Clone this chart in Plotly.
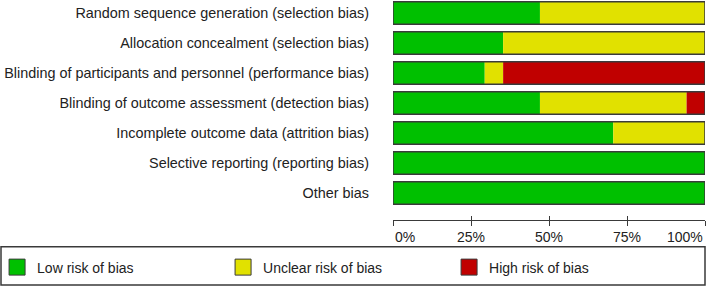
import plotly.graph_objects as go

domains = [
    "Random sequence generation (selection bias)",
    "Allocation concealment (selection bias)",
    "Blinding of participants and personnel (performance bias)",
    "Blinding of outcome assessment (detection bias)",
    "Incomplete outcome data (attrition bias)",
    "Selective reporting (reporting bias)",
    "Other bias",
]
low_pct = [47.1, 35.3, 29.4, 47.1, 70.6, 100.0, 100.0]
unclear_pct = [52.9, 64.7, 5.9, 47.0, 29.4, 0.0, 0.0]
high_pct = [0.0, 0.0, 64.7, 5.9, 0.0, 0.0, 0.0]
tick_vals = [0, 25, 50, 75, 100]
tick_labels = ["0%", "25%", "50%", "75%", "100%"]
series_names = ["Low risk of bias", "Unclear risk of bias", "High risk of bias"]
colors = ["#00c000", "#e1e100", "#c00000"]

base_unclear = low_pct
base_high = [a + b for a, b in zip(low_pct, unclear_pct)]
totals = [a + b + c for a, b, c in zip(low_pct, unclear_pct, high_pct)]

fig = go.Figure()
for vals, base, col in zip([low_pct, unclear_pct, high_pct],
                           [[0] * len(low_pct), base_unclear, base_high], colors):
    fig.add_trace(go.Bar(y=domains, x=vals, base=base, orientation="h",
                         marker=dict(color=col, line=dict(width=0)),
                         showlegend=False, hoverinfo="skip"))
# outline
fig.add_trace(go.Bar(y=domains, x=totals, base=[0] * len(totals), orientation="h",
                     marker=dict(color="rgba(0,0,0,0)", line=dict(color="#3a3a3a", width=1.5)),
                     showlegend=False, hoverinfo="skip"))
# legend entries
for name, col in zip(series_names, colors):
    fig.add_trace(go.Scatter(x=[None], y=[None], mode="markers", name=name,
                             marker=dict(symbol="square", size=20, color=col,
                                         line=dict(color="#3a3a3a", width=1))))
# second axis for inside ticks
fig.add_trace(go.Scatter(x=[None], y=[None], xaxis="x2", showlegend=False, hoverinfo="skip"))

fig.update_layout(
    width=708, height=287,
    margin=dict(l=393, r=3, t=0, b=67, autoexpand=False),
    barmode="overlay", bargap=0.25,
    plot_bgcolor="white", paper_bgcolor="white",
    font=dict(family="Liberation Sans, Arial, sans-serif", size=14, color="#222"),
    xaxis=dict(range=[0, 100], tickvals=tick_vals, ticktext=[""] * len(tick_vals),
               ticks="outside", ticklen=5, tickcolor="#3a3a3a", tickwidth=1,
               showline=True, linecolor="#3a3a3a", linewidth=1,
               showgrid=False, zeroline=False, fixedrange=True, automargin=False),
    xaxis2=dict(range=[0, 100], overlaying="x", anchor="y", side="bottom",
                tickvals=tick_vals, ticktext=[""] * len(tick_vals),
                ticks="inside", ticklen=4, tickcolor="#3a3a3a", tickwidth=1,
                showline=False, showgrid=False, zeroline=False),
    yaxis=dict(range=[6.9, -0.43], showgrid=False, zeroline=False, showline=False,
               ticks="", ticklabelstandoff=23, automargin=False,
               tickfont=dict(size=14.4, color="#222")),
    legend=dict(orientation="h", x=-1.269, xanchor="left", y=-0.216, yanchor="middle",
                borderwidth=0, bgcolor="rgba(0,0,0,0)",
                entrywidth=181, entrywidthmode="pixels", itemwidth=30,
                font=dict(size=14, color="#222")),
    shapes=[dict(type="rect", xref="paper", yref="paper",
                 x0=-1.2564, x1=1.0, y0=-0.1212, y1=-0.2955,
                 line=dict(color="#3a3a3a", width=1.5), fillcolor="rgba(0,0,0,0)")],
)

for v, t in zip(tick_vals, tick_labels):
    anchor = "left" if v == tick_vals[0] else ("right" if v == tick_vals[-1] else "center")
    fig.add_annotation(x=v, y=0, xref="x", yref="paper", text=t, showarrow=False,
                       xanchor=anchor, yanchor="top", yshift=-7,
                       font=dict(size=14, color="#222"))

fig.write_html("out.html")
